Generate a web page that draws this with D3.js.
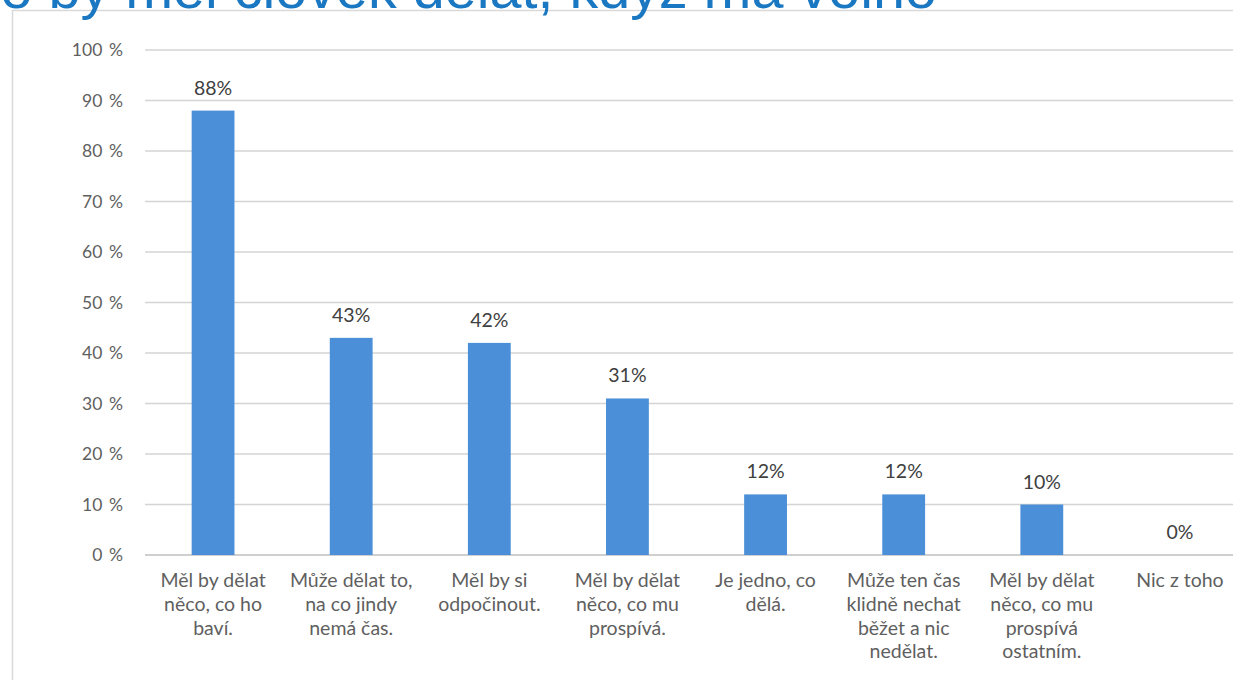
<!DOCTYPE html>
<html><head><meta charset="utf-8">
<script src="https://cdn.jsdelivr.net/npm/d3@7"></script>
<style>
body{margin:0;background:#fff;overflow:hidden}
svg{display:block}
</style></head>
<body>
<svg id="c" width="1233" height="680"></svg>
<script>
const title = "Co by měl člověk dělat, když má volno";
const categories = [
  ["Měl by dělat","něco, co ho","baví."],
  ["Může dělat to,","na co jindy","nemá čas."],
  ["Měl by si","odpočinout."],
  ["Měl by dělat","něco, co mu","prospívá."],
  ["Je jedno, co","dělá."],
  ["Může ten čas","klidně nechat","běžet a nic","nedělat."],
  ["Měl by dělat","něco, co mu","prospívá","ostatním."],
  ["Nic z toho"]
];
const values = [88, 43, 42, 31, 12, 12, 10, 0];
const yTicks = [0,10,20,30,40,50,60,70,80,90,100];

const svg = d3.select("#c");
const font = "Lato, 'Open Sans', sans-serif";
const gray = "#5f5f5f";

// frame
svg.append("rect").attr("x",12.5).attr("y",10.5).attr("width",1240).attr("height",700)
  .attr("fill","#fff").attr("stroke","#d9d9d9").attr("stroke-width",1.5);

// title (cropped at top, as in the source)
svg.append("text").attr("x",-41).attr("y",8).text(title)
  .attr("font-family","'Liberation Sans', Arial, sans-serif").attr("font-size",57.5)
  .attr("fill","#1a78c2");

const x = d3.scaleBand().domain(d3.range(categories.length)).range([144,1249]).paddingInner(0.69).paddingOuter(0.345);
const y = d3.scaleLinear().domain([0,100]).range([555,50]);

// gridlines
svg.append("g").selectAll("line").data(yTicks).join("line")
  .attr("x1",145).attr("x2",1233).attr("y1",d=>y(d)).attr("y2",d=>y(d))
  .attr("stroke",d=>d===0?"#bfbfbf":"#d4d4d4").attr("stroke-width",1.3);

// y axis labels
const yAxis = d3.axisLeft(y).tickValues(yTicks).tickFormat(d=>d+"\u00a0\u2009%").tickSize(0).tickPadding(0);
const ya = svg.append("g").attr("transform","translate(123,0)").call(yAxis);
ya.select(".domain").remove();
ya.selectAll("text").attr("font-family",font).attr("font-size",17.5).attr("fill",gray);

// bars
svg.append("g").selectAll("rect").data(values).join("rect")
  .attr("x",(d,i)=>x(i)).attr("width",x.bandwidth())
  .attr("y",d=>y(d)).attr("height",d=>y(0)-y(d))
  .attr("fill","#4a8fd8");

// value labels
svg.append("g").selectAll("text").data(values).join("text")
  .attr("x",(d,i)=>x(i)+x.bandwidth()/2).attr("y",d=>y(d)-16)
  .attr("text-anchor","middle").attr("font-family",font).attr("font-size",19.5).attr("fill","#404040")
  .text(d=>d+"%");

// category labels
const cg = svg.append("g").selectAll("text").data(categories).join("text")
  .attr("x",(d,i)=>x(i)+x.bandwidth()/2).attr("y",587)
  .attr("text-anchor","middle").attr("font-family",font).attr("font-size",19.5).attr("fill",gray);
cg.selectAll("tspan").data(d=>d).join("tspan")
  .attr("x",function(){return this.parentNode.getAttribute("x");})
  .attr("dy",(d,i)=>i===0?0:23.8).text(d=>d);
</script>
</body></html>
